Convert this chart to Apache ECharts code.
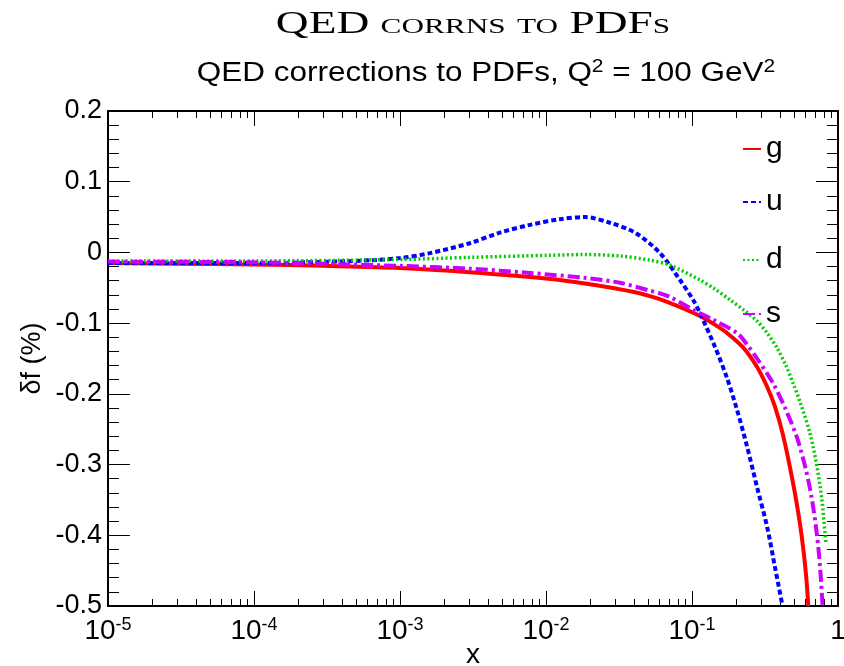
<!DOCTYPE html>
<html>
<head>
<meta charset="utf-8">
<script src="https://cdn.jsdelivr.net/npm/echarts@6/dist/echarts.min.js"></script>
<style>
  html, body { margin: 0; padding: 0; background: #fff; }
  #chart { width: 844px; height: 666px; }
</style>
</head>
<body>
<div id="chart"></div>
<script>
// QED corrections (in %) to the parton distributions at Q^2 = 100 GeV^2, versus x.
const gX = [1e-5, 3e-5, 1e-4, 3e-4, 1e-3, 3e-3, 1e-2, 0.02, 0.04, 0.06, 0.08, 0.1135, 0.156, 0.174, 0.223, 0.279, 0.327, 0.370, 0.420, 0.492, 0.549, 0.585, 0.611, 0.626];
const gY = [-0.015, -0.016, -0.017, -0.019, -0.022, -0.028, -0.037, -0.045, -0.056, -0.066, -0.076, -0.090, -0.107, -0.114, -0.134, -0.162, -0.190, -0.218, -0.258, -0.326, -0.384, -0.428, -0.468, -0.5];

const uX = [1e-5, 1e-4, 5e-4, 1e-3, 0.0016, 0.003, 0.00484, 0.00776, 0.01247, 0.0185, 0.0274, 0.0407, 0.0604, 0.0828, 0.1017, 0.1135, 0.144, 0.174, 0.203, 0.238, 0.279, 0.327, 0.370, 0.417];
const uY = [-0.015, -0.015, -0.012, -0.008, -0.001, 0.013, 0.028, 0.039, 0.047, 0.050, 0.042, 0.028, -0.001, -0.039, -0.067, -0.086, -0.134, -0.178, -0.222, -0.274, -0.332, -0.388, -0.445, -0.5];

const dX = [1e-5, 1e-4, 1e-3, 0.003, 0.0106, 0.0185, 0.0321, 0.0515, 0.0706, 0.1135, 0.144, 0.182, 0.228, 0.279, 0.330, 0.382, 0.440, 0.492, 0.549, 0.643, 0.718, 0.776, 0.815, 0.828];
const dY = [-0.012, -0.012, -0.010, -0.007, -0.004, -0.003, -0.005, -0.011, -0.018, -0.039, -0.052, -0.067, -0.082, -0.097, -0.115, -0.135, -0.160, -0.185, -0.211, -0.256, -0.303, -0.350, -0.397, -0.411];

const sX = [1e-5, 1e-4, 1e-3, 0.003, 0.00776, 0.0185, 0.0321, 0.0515, 0.0604, 0.0706, 0.1017, 0.139, 0.203, 0.238, 0.279, 0.359, 0.434, 0.524, 0.604, 0.664, 0.718, 0.754, 0.784];
const sY = [-0.013, -0.014, -0.019, -0.023, -0.029, -0.036, -0.043, -0.054, -0.058, -0.063, -0.081, -0.095, -0.114, -0.130, -0.150, -0.185, -0.220, -0.262, -0.308, -0.350, -0.400, -0.445, -0.5];

// Axis ticks
const xMajorTicks = [1e-5, 1e-4, 1e-3, 1e-2, 1e-1, 1];
const xMinorTicks = [];
for (let e = -5; e < 0; e++) {
  for (let m = 2; m <= 9; m++) xMinorTicks.push(m * Math.pow(10, e));
}

const FONT = 'Liberation Sans, Arial, Helvetica, sans-serif';
const SERIF = 'Liberation Serif, Times New Roman, serif';
const BLACK = '#000';

function pairs(xs, ys) { return xs.map((x, i) => [x, ys[i]]); }

function xLabel(v) {
  const e = Math.round(Math.log10(v));
  return e === 0 ? '1' : '10{sup|' + e + '}';
}

function logAxis(position, major) {
  const labelled = major && position === 'bottom';
  return {
    type: 'log', logBase: 10, min: 1e-5, max: 1, position: position,
    axisLine: { show: major, onZero: false, lineStyle: { color: BLACK, width: 2 } },
    axisTick: {
      show: true, inside: true, length: major ? 15 : 7,
      customValues: major ? xMajorTicks : xMinorTicks,
      lineStyle: { color: BLACK, width: 1 }
    },
    axisLabel: labelled ? {
      show: true, customValues: xMajorTicks, formatter: xLabel, margin: 10,
      color: BLACK, fontFamily: FONT, fontSize: 28, lineHeight: 31,
      rich: { sup: { fontFamily: FONT, fontSize: 18, verticalAlign: 'top', lineHeight: 18, color: BLACK } }
    } : { show: false },
    splitLine: { show: false },
    name: labelled ? 'x' : '',
    nameLocation: 'middle', nameGap: 35, nameMoveOverlap: false,
    nameTextStyle: { color: BLACK, fontFamily: FONT, fontSize: 28 }
  };
}

function valueAxis(position) {
  const left = position === 'left';
  return {
    type: 'value', min: -0.5, max: 0.2, interval: 0.1, position: position,
    axisLine: { show: true, onZero: false, lineStyle: { color: BLACK, width: 2 } },
    axisTick: { show: true, inside: true, length: 22, lineStyle: { color: BLACK, width: 1 } },
    minorTick: { show: true, splitNumber: 5, length: 11, lineStyle: { color: BLACK, width: 1 } },
    axisLabel: left ? {
      show: true, margin: 6, color: BLACK, fontFamily: FONT, fontSize: 27,
      formatter: v => String(Math.round(v * 10) / 10)
    } : { show: false },
    splitLine: { show: false },
    name: left ? 'δf (%)' : '',
    nameLocation: 'middle', nameGap: 62, nameMoveOverlap: false,
    nameTextStyle: { color: BLACK, fontFamily: FONT, fontSize: 27 }
  };
}

const seriesDefs = [
  { name: 'g', x: gX, y: gY, color: '#ff0000', type: 'solid', width: 4 },
  { name: 'u', x: uX, y: uY, color: '#0000ff', type: [5, 3], width: 4 },
  { name: 'd', x: dX, y: dY, color: '#00cc00', type: [2, 2.5], width: 3.5 },
  { name: 's', x: sX, y: sY, color: '#cc00ff', type: [12, 4, 3, 4], width: 4 }
];

const legendTops = [129, 182, 240, 294];

const chart = echarts.init(document.getElementById('chart'), null, { renderer: 'canvas' });
chart.setOption({
  backgroundColor: '#fff',
  animation: false,
  graphic: [
    {
      type: 'text', x: 473, y: 9, scaleX: 1.42,
      style: {
        text: 'QED corrns to PDFs', fill: BLACK, align: 'center', verticalAlign: 'top',
        fontFamily: SERIF, fontStyle: 'small-caps', fontSize: 32
      }
    },
    {
      type: 'text', x: 486, y: 58, scaleX: 1.165,
      style: {
        text: 'QED corrections to PDFs, Q{sup|2} = 100 GeV{sup|2}', fill: BLACK,
        align: 'center', verticalAlign: 'top',
        fontFamily: FONT, fontSize: 27, lineHeight: 31,
        rich: { sup: { fontFamily: FONT, fontSize: 18, verticalAlign: 'top', lineHeight: 18, fill: BLACK } }
      }
    }
  ],
  grid: { left: 108, right: 6, top: 111, bottom: 60, containLabel: false, outerBoundsMode: 'none' },
  legend: seriesDefs.map((s, i) => ({
    data: [s.name], left: 737, top: legendTops[i], orient: 'vertical',
    itemWidth: 18, itemHeight: 14, selectedMode: false,
    itemStyle: { opacity: 0 },
    textStyle: { fontFamily: FONT, fontSize: 30, color: BLACK }
  })),
  xAxis: [logAxis('bottom', true), logAxis('top', true), logAxis('bottom', false), logAxis('top', false)],
  yAxis: [valueAxis('left'), valueAxis('right')],
  series: seriesDefs.map(s => ({
    name: s.name, type: 'line', xAxisIndex: 0, yAxisIndex: 0,
    data: pairs(s.x, s.y), smooth: 0.3, showSymbol: false, symbol: 'none', clip: true,
    color: s.color,
    lineStyle: { color: s.color, width: s.width, type: s.type, cap: 'butt' }
  }))
});
</script>
</body>
</html>
